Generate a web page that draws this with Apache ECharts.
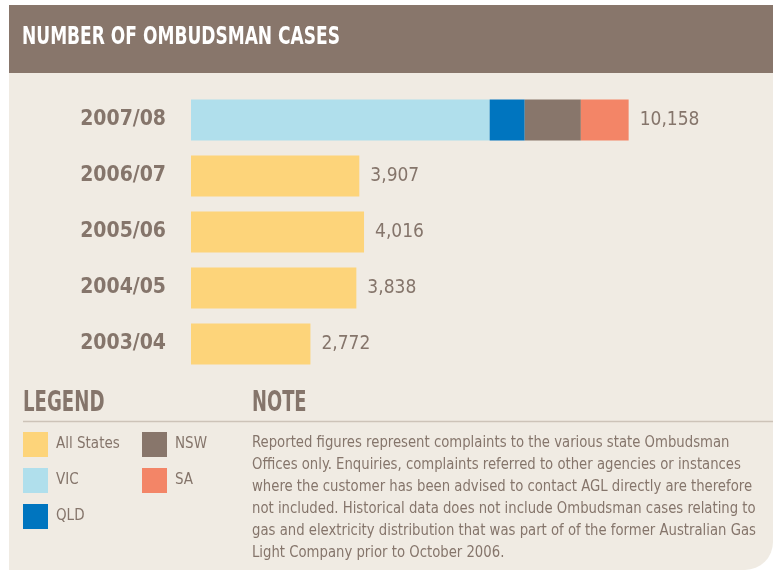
<!DOCTYPE html>
<html>
<head>
<meta charset="utf-8">
<script src="https://cdn.jsdelivr.net/npm/echarts@6/dist/echarts.min.js"></script>
<style>
  html, body { margin: 0; padding: 0; background: #ffffff; }
  #chart { width: 773px; height: 572px; }
</style>
</head>
<body>
<div id="chart"></div>
<script>
  const YEARS = ["2003/04", "2004/05", "2005/06", "2006/07", "2007/08"];
  const ALL_STATES = [2772, 3838, 4016, 3907, null];
  const VIC = [null, null, null, null, 6932];
  const QLD = [null, null, null, null, 814];
  const NSW = [null, null, null, null, 1303];
  const SA = [null, null, null, null, 1109];
  const NOTE_LINES = [
    "Reported figures represent complaints to the various state Ombudsman",
    "Offices only. Enquiries, complaints referred to other agencies or instances",
    "where the customer has been advised to contact AGL directly are therefore",
    "not included. Historical data does not include Ombudsman cases relating to",
    "gas and elextricity distribution that was part of of the former Australian Gas",
    "Light Company prior to October 2006."
  ];

  const BROWN = "#88766b";
  const TEXT = "#85756b";
  const BG = "#f0ebe3";
  const FONT = "'Liberation Sans Narrow', 'DejaVu Sans Condensed', sans-serif";

  // total per year, for the end-of-bar labels
  const totals = YEARS.map((_, i) =>
    [ALL_STATES, VIC, QLD, NSW, SA].reduce((s, arr) => s + (arr[i] || 0), 0));
  const fmt = v => v.toLocaleString("en-US");

  const endLabel = {
    show: true, position: "right", distance: 11,
    color: TEXT, fontFamily: FONT, fontSize: 19,
    formatter: p => fmt(totals[p.dataIndex])
  };
  function seg(name, data, color, label) {
    return {
      name, type: "bar", stack: "total", data, barWidth: 41,
      itemStyle: { color }, label: label || { show: false },
      emphasis: { disabled: true }, animation: false
    };
  }
  // condensed text drawn through graphic, squeezed horizontally
  function txt(x, y, text, font, sx, color, extra) {
    return {
      type: "text", x, y, scaleX: sx, originX: 0,
      style: Object.assign({ x: 0, y: 0, text, fill: color, font, verticalAlign: "top" }, extra || {})
    };
  }

  const chart = echarts.init(document.getElementById("chart"), null, { renderer: "canvas" });
  chart.setOption({
    backgroundColor: "#ffffff",
    animation: false,
    grid: { left: 191, top: 92, width: 517, height: 280 },
    xAxis: { type: "value", min: 0, max: 12000, show: false },
    yAxis: {
      type: "category", data: YEARS,
      axisLine: { show: false }, axisTick: { show: false }, splitLine: { show: false },
      axisLabel: { color: TEXT, fontFamily: FONT, fontWeight: "bold", fontSize: 21, margin: 25 }
    },
    legend: [
      {
        left: 23, top: 432, orient: "vertical", padding: 0, itemGap: 11,
        itemWidth: 25, itemHeight: 25, icon: "rect", selectedMode: false,
        data: ["All States", "VIC", "QLD"],
        textStyle: { color: TEXT, fontFamily: FONT, fontSize: 15, padding: [0, 0, 0, 3] }
      },
      {
        left: 142, top: 432, orient: "vertical", padding: 0, itemGap: 11,
        itemWidth: 25, itemHeight: 25, icon: "rect", selectedMode: false,
        data: ["NSW", "SA"],
        textStyle: { color: TEXT, fontFamily: FONT, fontSize: 15, padding: [0, 0, 0, 3] }
      }
    ],
    graphic: [
      { type: "rect", z: -10, shape: { x: 9, y: 73, width: 764, height: 497, r: [0, 0, 28, 0] }, style: { fill: BG } },
      { type: "rect", z: -10, shape: { x: 9, y: 5, width: 764, height: 68 }, style: { fill: BROWN } },
      txt(22, 26, "NUMBER OF OMBUDSMAN CASES", "bold 24px " + FONT, 0.79, "#ffffff"),
      txt(23, 390, "LEGEND", "bold 28px " + FONT, 0.72, TEXT),
      txt(252, 390, "NOTE", "bold 28px " + FONT, 0.71, TEXT),
      { type: "line", shape: { x1: 23, y1: 421.5, x2: 773, y2: 421.5 }, style: { stroke: "#cdc3b8", lineWidth: 1.5 } },
      txt(252, 432, NOTE_LINES.join("\n"), "16px " + FONT, 0.92, TEXT, { lineHeight: 22 })
    ],
    series: [
      seg("All States", ALL_STATES, "#fdd47a", endLabel),
      seg("VIC", VIC, "#b0dfec"),
      seg("QLD", QLD, "#0075bf"),
      seg("NSW", NSW, BROWN),
      seg("SA", SA, "#f38567", endLabel)
    ]
  });
</script>
</body>
</html>
